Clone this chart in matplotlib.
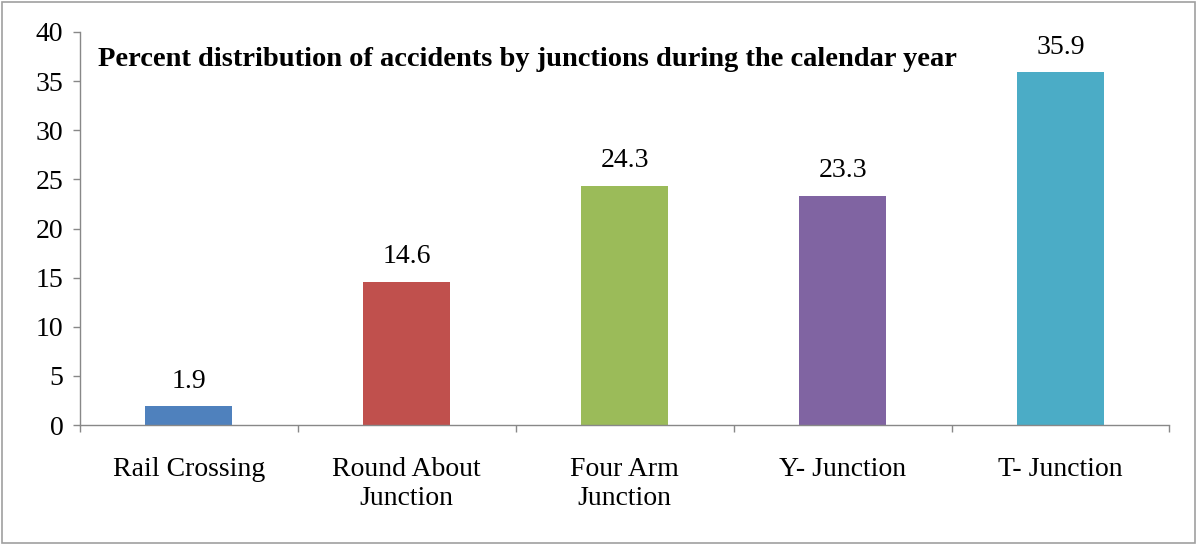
import matplotlib
matplotlib.use("Agg")
import matplotlib.pyplot as plt
from matplotlib.patches import Rectangle

categories = ["Rail Crossing", "Round About\nJunction", "Four Arm\nJunction", "Y- Junction", "T- Junction"]
values = [1.9, 14.6, 24.3, 23.3, 35.9]
colors = ["#4F81BD", "#C0504D", "#9BBB59", "#8064A2", "#4BACC6"]
title = "Percent distribution of accidents by junctions during the calendar year"

plt.rcParams['font.family'] = ['Liberation Serif', 'DejaVu Serif']

fig = plt.figure(figsize=(11.97, 5.46), dpi=100)
fig.patches.append(Rectangle((0.002, 0.006), 0.996, 0.99, transform=fig.transFigure,
                             fill=False, edgecolor="#A0A0A0", linewidth=1.2))
ax = fig.add_axes([0.0668, 0.2216, 0.9102, 0.7198])
x = list(range(len(categories)))
bars = ax.bar(x, values, width=0.4, color=colors)
for xi, v in zip(x, values):
    ax.text(xi, v + 1.3, f"{v}", ha="center", va="bottom", fontsize=20)

ax.set_xlim(-0.5, len(categories) - 0.5)
ax.set_ylim(0, 40)
ax.set_yticks(range(0, 41, 5))
ax.tick_params(axis="y", labelsize=20, length=5, color="#888888", width=1, pad=7)
ax.set_xticks([i - 0.5 for i in range(len(categories) + 1)])
ax.set_xticklabels([])
ax.set_xticks(x, minor=True)
ax.set_xticklabels(categories, minor=True, fontsize=20, linespacing=1.2)
ax.tick_params(axis="x", which="major", length=5, color="#888888", width=1)
ax.tick_params(axis="x", which="minor", length=0, pad=23)
for s in ["top", "right"]:
    ax.spines[s].set_visible(False)
for s in ["left", "bottom"]:
    ax.spines[s].set_color("#888888")
    ax.spines[s].set_linewidth(1)
ax.text(0.0165, 0.93, title, fontsize=20.5, fontweight="bold", ha="left", va="center",
        transform=ax.transAxes)
ax.set_xlim(-0.5, len(categories) - 0.5)
fig.savefig("out.png", dpi=100)
